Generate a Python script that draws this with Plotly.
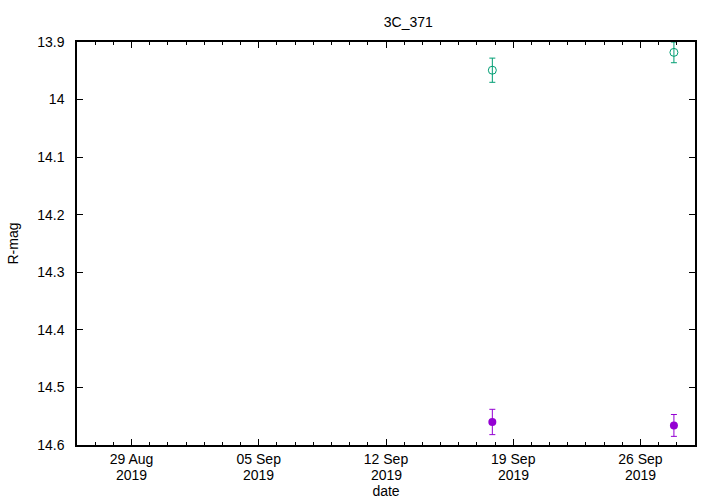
import plotly.graph_objects as go

# Data
dates_a = ["2019-09-17 20:24", "2019-09-27 20:10"]
mag_a = [13.949, 13.918]
err_a = [0.021, 0.018]

dates_b = ["2019-09-17 20:24", "2019-09-27 20:10"]
mag_b = [14.560, 14.566]
err_b = [0.022, 0.019]

x_tickvals = ["2019-08-29", "2019-09-05", "2019-09-12", "2019-09-19", "2019-09-26"]
x_ticktext = ["29 Aug", "05 Sep", "12 Sep", "19 Sep", "26 Sep"]
x_tickyear = ["2019", "2019", "2019", "2019", "2019"]
y_tickvals = [13.9, 14.0, 14.1, 14.2, 14.3, 14.4, 14.5, 14.6]
y_ticktext = ["13.9", "14", "14.1", "14.2", "14.3", "14.4", "14.5", "14.6"]

green = "#009e73"
purple = "#9400d3"

fig = go.Figure()
fig.add_trace(go.Scatter(
    x=dates_a, y=mag_a, mode="markers",
    marker=dict(symbol="circle-open", size=8, color=green, line=dict(width=1, color=green)),
    error_y=dict(type="data", array=err_a, visible=True, color=green, thickness=1, width=3),
    showlegend=False, cliponaxis=True,
))
fig.add_trace(go.Scatter(
    x=dates_b, y=mag_b, mode="markers",
    marker=dict(symbol="circle", size=8, color=purple),
    error_y=dict(type="data", array=err_b, visible=True, color=purple, thickness=1, width=3),
    showlegend=False, cliponaxis=True,
))

font = dict(family="Liberation Sans, Arial, sans-serif", size=14, color="black")

annotations = [
    dict(x=v, y=0, xref="x", yref="paper", text=t, showarrow=False,
         xanchor="center", yanchor="middle", yshift=-30, font=font)
    for v, t in zip(x_tickvals, x_tickyear)
]

fig.update_layout(
    width=720, height=504,
    margin=dict(l=77, r=25, t=42, b=59),
    paper_bgcolor="white", plot_bgcolor="white",
    font=font,
    title=dict(text="3C_371", x=(77 + 695) / 2 / 720, xanchor="center", y=1 - 22 / 504, yanchor="middle",
               xref="paper", font=font),
    annotations=annotations,
    xaxis=dict(
        type="date", range=["2019-08-26", "2019-09-29"],
        tickmode="array", tickvals=x_tickvals, ticktext=x_ticktext,
        ticks="inside", ticklen=6, tickcolor="black", tickwidth=1,
        showline=True, linecolor="black", linewidth=1.5, mirror="ticks",
        showgrid=False, zeroline=False, automargin=False,
        minor=dict(tickmode="linear", tick0="2019-08-26", dtick=86400000,
                   ticks="inside", ticklen=3, tickcolor="black", showgrid=False),
        title=dict(text="date", standoff=21, font=font),
        tickfont=font, ticklabelstandoff=0,
    ),
    yaxis=dict(
        range=[14.6, 13.9],
        tickmode="array", tickvals=y_tickvals, ticktext=y_ticktext,
        ticks="inside", ticklen=6, tickcolor="black", tickwidth=1,
        showline=True, linecolor="black", linewidth=1.5, mirror="ticks",
        showgrid=False, zeroline=False, automargin=False,
        title=dict(text="R-mag", standoff=15, font=font),
        tickfont=font, ticklabelstandoff=8,
    ),
)

fig.write_html("out.html", config={"displayModeBar": False},
               post_script="document.body.style.margin='0';")
